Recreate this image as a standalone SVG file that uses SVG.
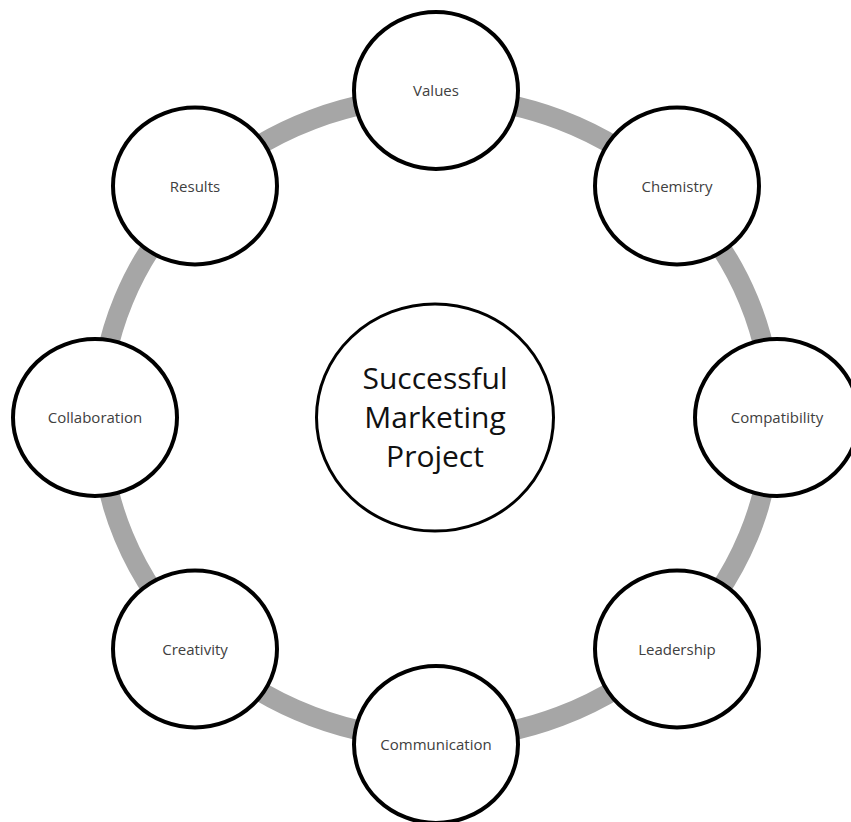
<svg xmlns="http://www.w3.org/2000/svg" width="851" height="822" viewBox="0 0 851 822">
<style>
.node{fill:#ffffff;stroke:#000000;stroke-width:4}
.lbl{font-family:"Open Sans","Liberation Sans",sans-serif;font-size:15px;fill:#404040;text-anchor:middle}
.hub{fill:#ffffff;stroke:#000000;stroke-width:3}
.hubt{font-family:"Open Sans","Liberation Sans",sans-serif;font-size:30px;fill:#111111;text-anchor:middle}
</style>
<rect width="851" height="822" fill="#ffffff"/>
<g id="connectors">
<ellipse cx="436" cy="418" rx="336" ry="321" fill="none" stroke="#a6a6a6" stroke-width="20"/>
</g>
<g id="hub">
<ellipse class="hub" cx="435" cy="417.5" rx="118.5" ry="113.5"/>
<text class="hubt" x="435" y="389">Successful</text>
<text class="hubt" x="435" y="428">Marketing</text>
<text class="hubt" x="435" y="467">Project</text>
</g>
<g id="values">
<ellipse class="node" cx="436" cy="90.5" rx="82" ry="78.5"/>
<text class="lbl" x="436" y="96">Values</text>
</g>
<g id="chemistry">
<ellipse class="node" cx="677" cy="186" rx="82" ry="78.5"/>
<text class="lbl" x="677" y="191.5">Chemistry</text>
</g>
<g id="compatibility">
<ellipse class="node" cx="777" cy="417.5" rx="82" ry="78.5"/>
<text class="lbl" x="777" y="423">Compatibility</text>
</g>
<g id="leadership">
<ellipse class="node" cx="677" cy="649" rx="82" ry="78.5"/>
<text class="lbl" x="677" y="654.5">Leadership</text>
</g>
<g id="communication">
<ellipse class="node" cx="436" cy="744.5" rx="82" ry="78.5"/>
<text class="lbl" x="436" y="750">Communication</text>
</g>
<g id="creativity">
<ellipse class="node" cx="195" cy="649" rx="82" ry="78.5"/>
<text class="lbl" x="195" y="654.5">Creativity</text>
</g>
<g id="collaboration">
<ellipse class="node" cx="95" cy="417.5" rx="82" ry="78.5"/>
<text class="lbl" x="95" y="423">Collaboration</text>
</g>
<g id="results">
<ellipse class="node" cx="195" cy="186" rx="82" ry="78.5"/>
<text class="lbl" x="195" y="191.5">Results</text>
</g>
</svg>
